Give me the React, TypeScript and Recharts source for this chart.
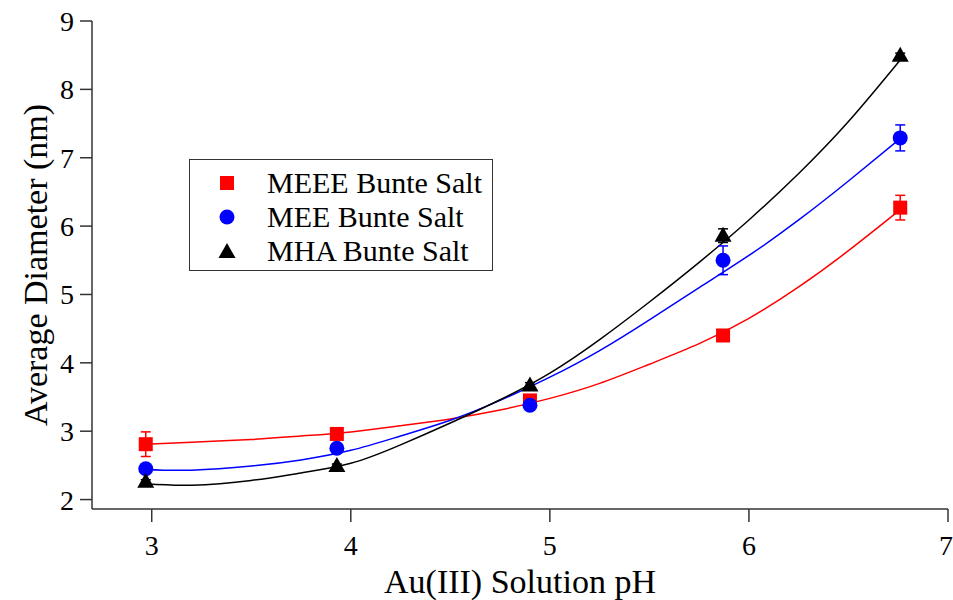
import {
  ComposedChart,
  Line,
  Scatter,
  XAxis,
  YAxis,
  ErrorBar,
  Legend,
  Label,
} from "recharts";

// measured points (pH, diameter nm, error)
const phPoints = [2.97, 3.93, 4.9, 5.87, 6.76];
const meeeValues = [2.81, 2.96, 3.45, 4.4, 6.27];
const meeeErrors = [0.18, 0.05, 0.04, 0.05, 0.18];
const meeValues = [2.45, 2.75, 3.38, 5.5, 7.29];
const meeErrors = [0.05, 0.04, 0.04, 0.21, 0.19];
const mhaValues = [2.26, 2.49, 3.67, 5.86, 8.49];
const mhaErrors = [0.03, 0.03, 0.04, 0.1, 0.04];

// fit curves
const fitPh = [2.97, 3.2, 3.5, 3.75, 4.0, 4.25, 4.5, 4.75, 5.0, 5.25, 5.5, 5.75, 6.0, 6.25, 6.5, 6.76];
const meeeFit = [2.81, 2.84, 2.88, 2.93, 2.99, 3.08, 3.18, 3.31, 3.48, 3.7, 3.98, 4.28, 4.65, 5.11, 5.64, 6.24];
const meeFit = [2.44, 2.43, 2.49, 2.58, 2.72, 2.93, 3.16, 3.45, 3.79, 4.18, 4.63, 5.1, 5.57, 6.09, 6.66, 7.28];
const mhaFit = [2.23, 2.21, 2.28, 2.39, 2.53, 2.8, 3.12, 3.46, 3.85, 4.34, 4.89, 5.47, 6.09, 6.77, 7.53, 8.43];

const xTicks = [3, 4, 5, 6, 7];
const yTicks = [2, 3, 4, 5, 6, 7, 8, 9];

const seriesNames = ["MEEE Bunte Salt", "MEE Bunte Salt", "MHA Bunte Salt"];
const RED = "#ff0000";
const BLUE = "#0000ff";
const BLACK = "#000000";
const AXIS = "#333333";
const FONT = "'Liberation Serif', 'Times New Roman', serif";

const toPoints = (vals: number[], errs: number[]) =>
  phPoints.map((x, i) => ({ x, y: vals[i], err: errs[i] }));
const toFit = (vals: number[]) => fitPh.map((x, i) => ({ x, y: vals[i] }));

const SquareDot = (p: any) => (
  <rect x={p.cx - 7} y={p.cy - 7} width={14} height={14} fill={RED} />
);
const CircleDot = (p: any) => <circle cx={p.cx} cy={p.cy} r={7.5} fill={BLUE} />;
const TriangleDot = (p: any) => (
  <polygon
    points={`${p.cx},${p.cy - 9} ${p.cx - 8.5},${p.cy + 6} ${p.cx + 8.5},${p.cy + 6}`}
    fill={BLACK}
  />
);

const LegendIcon = ({ i }: { i: number }) => (
  <svg width={20} height={20} style={{ display: "block" }}>
    {i === 0 && <rect x={3} y={3} width={14} height={14} fill={RED} />}
    {i === 1 && <circle cx={10} cy={10} r={7.5} fill={BLUE} />}
    {i === 2 && <polygon points="10,2 1.5,17 18.5,17" fill={BLACK} />}
  </svg>
);

const LegendBox = () => (
  <div
    style={{
      border: `1.5px solid ${AXIS}`,
      background: "#fff",
      width: 304,
      height: 112,
      boxSizing: "border-box",
      padding: "6px 0 0 27px",
      fontFamily: FONT,
      fontSize: 30,
      color: "#000",
    }}
  >
    {seriesNames.map((name, i) => (
      <div key={name} style={{ display: "flex", alignItems: "center", height: 34 }}>
        <LegendIcon i={i} />
        <span style={{ marginLeft: 30, lineHeight: "34px" }}>{name}</span>
      </div>
    ))}
  </div>
);

export default function App() {
  return (
    <div style={{ position: "absolute", left: 0, top: 0, background: "#fff" }}>
      <ComposedChart
        width={953}
        height={600}
        margin={{ top: 21, right: 5, bottom: 0, left: 0 }}
      >
        <XAxis
          type="number"
          dataKey="x"
          domain={[2.7, 7]}
          ticks={xTicks}
          allowDataOverflow
          height={91}
          stroke={AXIS}
          strokeWidth={1.5}
          tickSize={13}
          tickMargin={13}
          tick={{ fill: "#000", fontSize: 28, fontFamily: FONT }}
        >
          <Label
            content={({ viewBox }: any) => (
              <text
                x={viewBox.x + viewBox.width / 2}
                y={593}
                textAnchor="middle"
                fontSize={34}
                fontFamily={FONT}
                fill="#000"
              >
                Au(III) Solution pH
              </text>
            )}
          />
        </XAxis>
        <YAxis
          type="number"
          dataKey="y"
          domain={[1.862, 9]}
          ticks={yTicks}
          allowDataOverflow
          width={92}
          stroke={AXIS}
          strokeWidth={1.5}
          tickSize={12}
          tickMargin={6}
          tick={{ fill: "#000", fontSize: 28, fontFamily: FONT }}
        >
          <Label
            content={({ viewBox }: any) => {
              const cx = 35;
              const cy = viewBox.y + viewBox.height / 2;
              return (
                <text
                  x={cx}
                  y={cy}
                  transform={`rotate(-90 ${cx} ${cy})`}
                  textAnchor="middle"
                  dominantBaseline="central"
                  fontSize={34}
                  fontFamily={FONT}
                  fill="#000"
                >
                  Average Diameter (nm)
                </text>
              );
            }}
          />
        </YAxis>
        <Legend
          layout="horizontal"
          verticalAlign="middle"
          align="center"
          wrapperStyle={{ left: 189, top: 159, width: 304, height: 112 }}
          content={() => <LegendBox />}
        />

        <Line data={toFit(meeeFit)} dataKey="y" type="natural" dot={false} stroke={RED} strokeWidth={1.5} isAnimationActive={false} legendType="none" />
        <Line data={toFit(meeFit)} dataKey="y" type="natural" dot={false} stroke={BLUE} strokeWidth={1.5} isAnimationActive={false} legendType="none" />
        <Line data={toFit(mhaFit)} dataKey="y" type="natural" dot={false} stroke={BLACK} strokeWidth={1.5} isAnimationActive={false} legendType="none" />

        <Scatter name={seriesNames[0]} data={toPoints(meeeValues, meeeErrors)} dataKey="y" shape={SquareDot} isAnimationActive={false}>
          <ErrorBar dataKey="err" direction="y" width={5} stroke={RED} strokeWidth={1.5} />
        </Scatter>
        <Scatter name={seriesNames[1]} data={toPoints(meeValues, meeErrors)} dataKey="y" shape={CircleDot} isAnimationActive={false}>
          <ErrorBar dataKey="err" direction="y" width={5} stroke={BLUE} strokeWidth={1.5} />
        </Scatter>
        <Scatter name={seriesNames[2]} data={toPoints(mhaValues, mhaErrors)} dataKey="y" shape={TriangleDot} isAnimationActive={false}>
          <ErrorBar dataKey="err" direction="y" width={5} stroke={BLACK} strokeWidth={1.5} />
        </Scatter>
      </ComposedChart>
    </div>
  );
}
